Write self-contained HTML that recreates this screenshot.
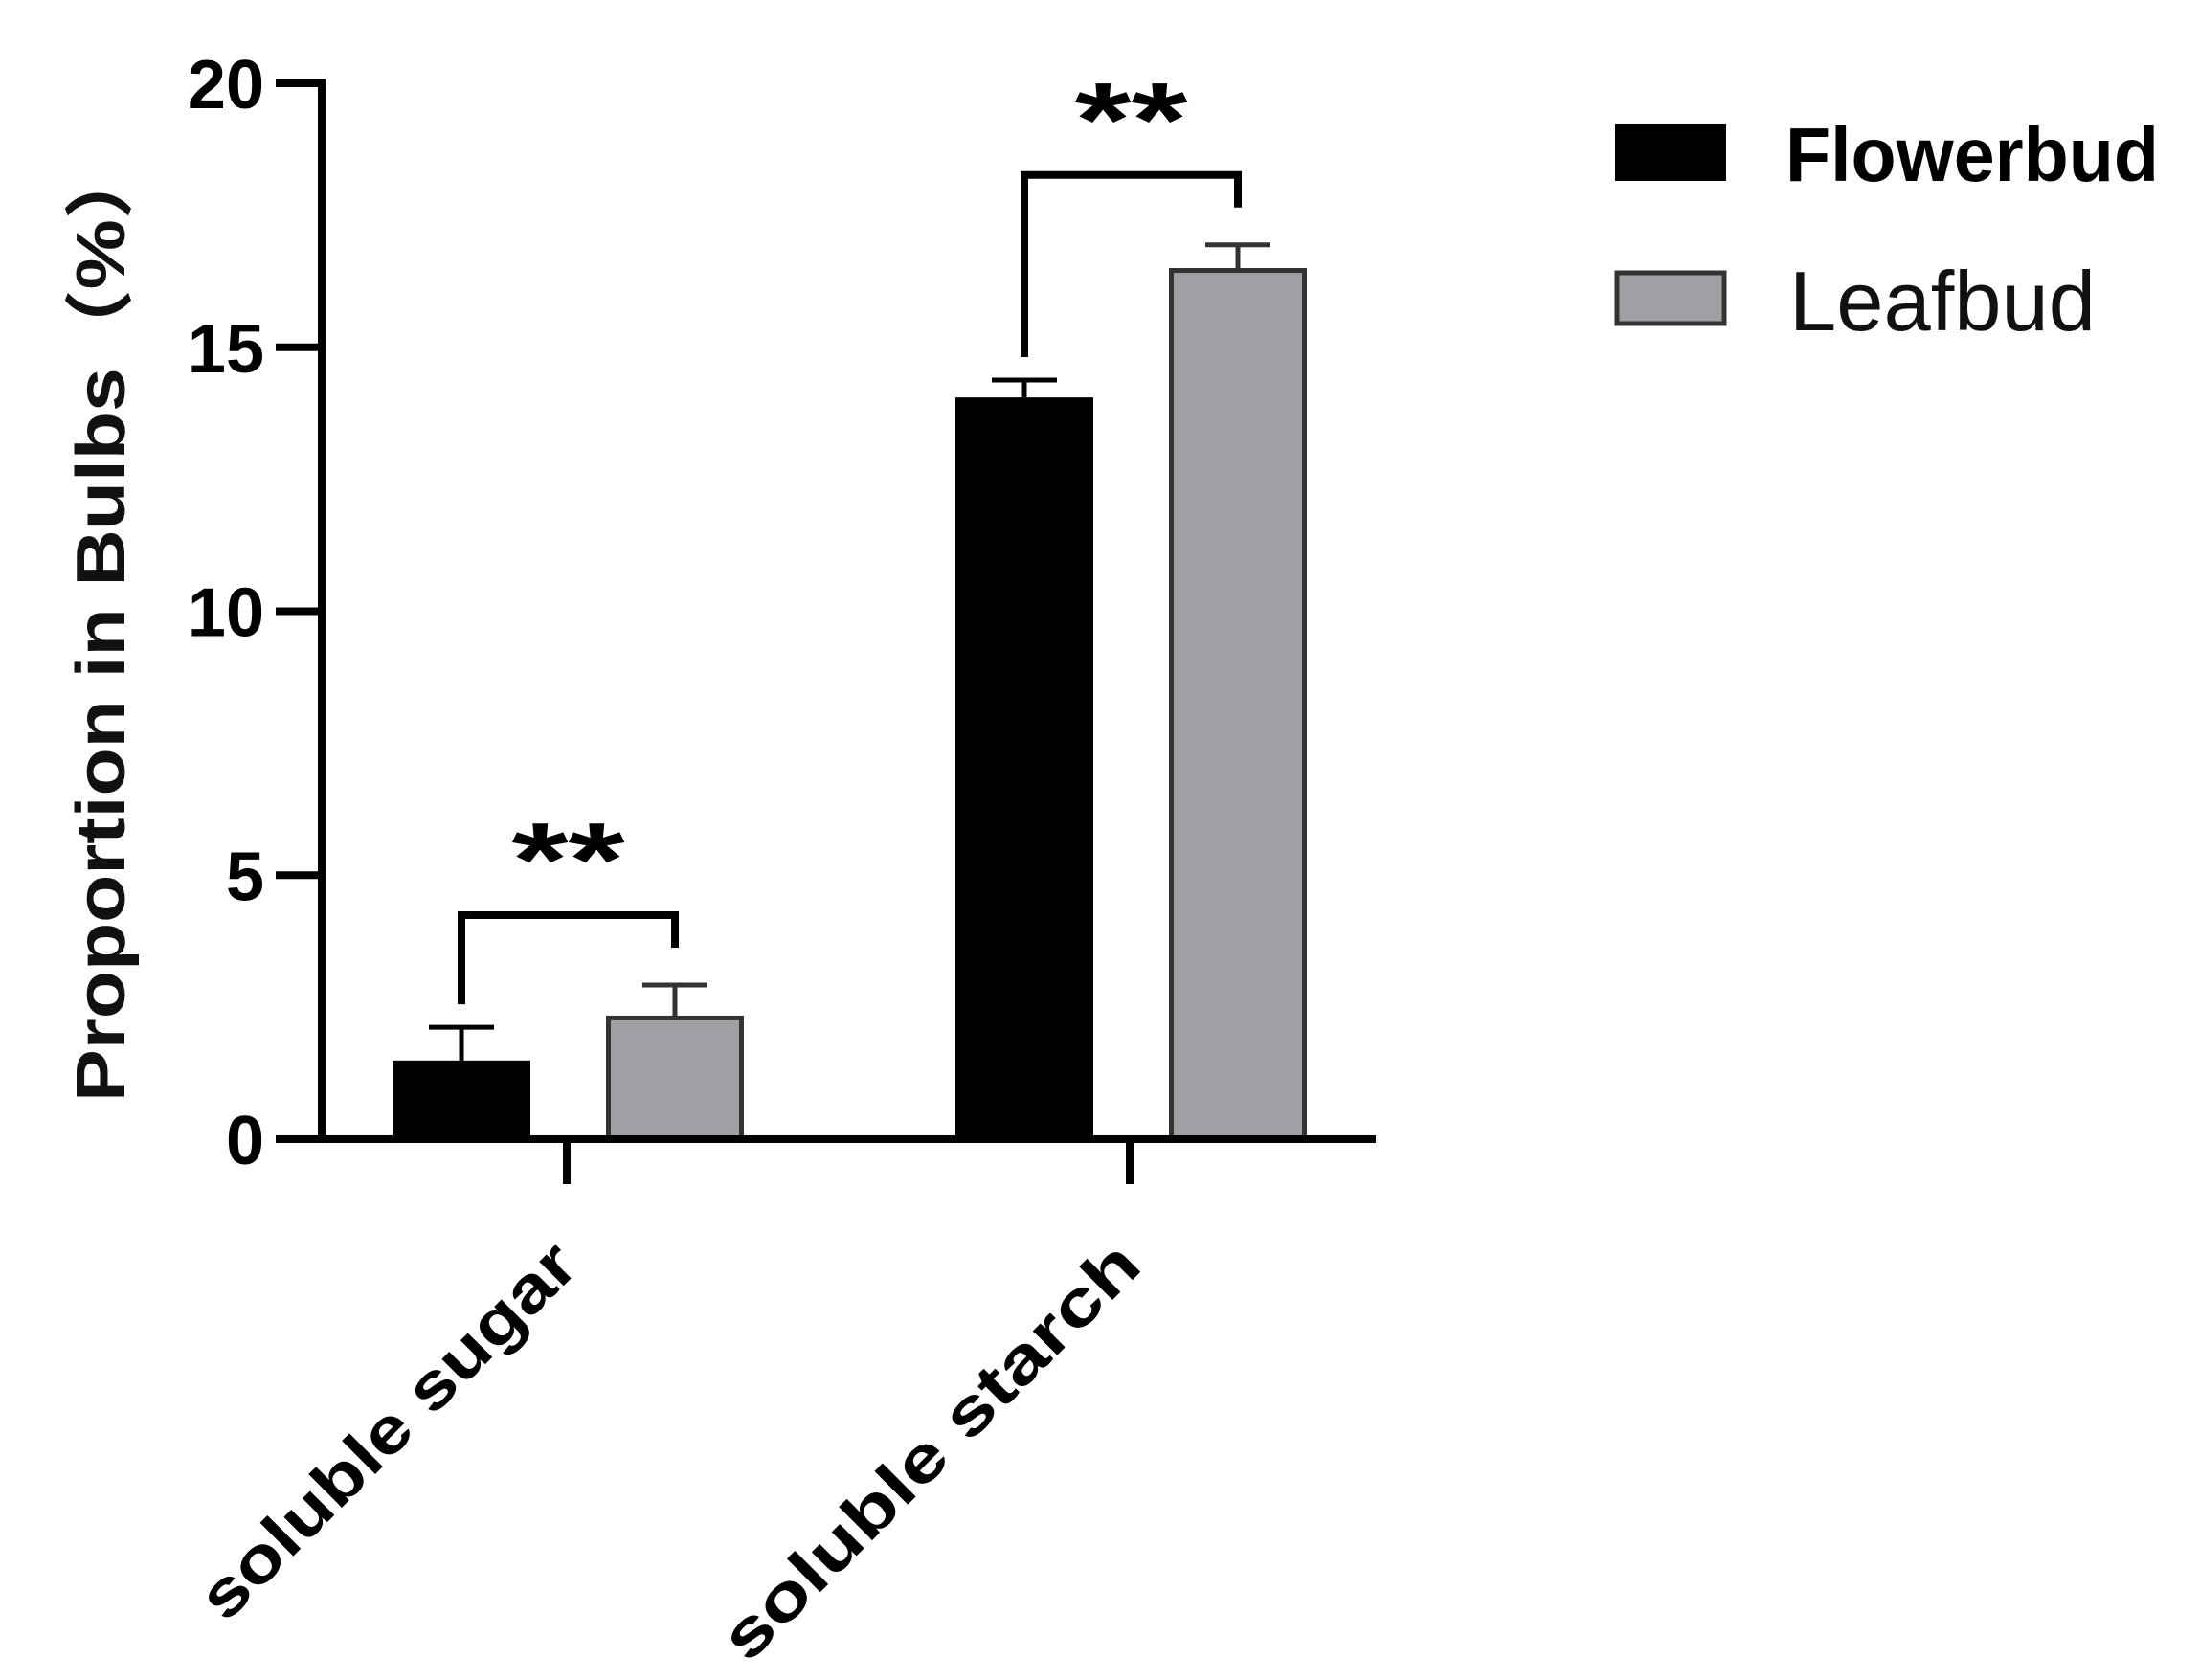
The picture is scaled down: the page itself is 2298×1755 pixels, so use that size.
<!DOCTYPE html>
<html><head><meta charset="utf-8"><style>
html,body{margin:0;padding:0;background:#fff;}
svg{display:block;}
</style></head><body>
<svg id="chart" width="2298" height="1755" viewBox="0 0 2298 1755" xmlns="http://www.w3.org/2000/svg">
  <g id="marks"></g>
  <text transform="translate(130,649) rotate(-90)" text-anchor="middle" font-family="Liberation Sans, Noto Sans CJK SC, sans-serif" font-weight="bold" font-size="72" textLength="1004" lengthAdjust="spacingAndGlyphs" fill="#111">Proportion in Bulbs（%）</text>
  <g>
    <rect x="1687" y="130" width="116" height="59" fill="#000"/>
    <text x="1865" y="189" font-family="Liberation Sans, sans-serif" font-weight="bold" font-size="80" textLength="390" lengthAdjust="spacingAndGlyphs" fill="#000">Flowerbud</text>
    <rect x="1689" y="285" width="112" height="53" fill="#a0a0a4" stroke="#333" stroke-width="5"/>
    <text x="1869" y="345" font-family="Liberation Sans, sans-serif" font-size="88" textLength="320" lengthAdjust="spacingAndGlyphs" fill="#111">Leafbud</text>
  </g>
</svg>
<script>
const categories = ["soluble sugar", "soluble starch"];
const flowerbud = [1.49, 14.05];
const leafbud = [2.34, 16.5];
const flowerbudErr = [0.63, 0.33];
const leafbudErr = [0.58, 0.44];
const yTicks = [0, 5, 10, 15, 20];
const sigLabels = ["**", "**"];

const NS = "http://www.w3.org/2000/svg";
const g = document.getElementById("marks");
const y0 = 1190, yTop = 87, yMax = 20;
const catX = [592, 1180];
const barW = 144;
function y(v){ return y0 - (v / yMax) * (y0 - yTop); }
function xc(i){ return catX[i]; }
function mk(tag, attrs){ const e = document.createElementNS(NS, tag); for (const k in attrs) e.setAttribute(k, attrs[k]); g.appendChild(e); return e; }

categories.forEach((c, i) => {
  const fx = xc(i) - 182, lx = xc(i) + 41;
  const b1 = mk("rect", {x: fx, y: y(flowerbud[i]), width: barW, height: y0 - y(flowerbud[i]), fill: "#000"});
  
  
  const b2 = mk("rect", {x: lx + 2.5, y: y(leafbud[i]) + 2.5, width: barW - 5, height: y0 - y(leafbud[i]) - 2.5, fill: "#a0a0a4", stroke: "#333", "stroke-width": 5});
  
  
  [[fx, flowerbud[i], flowerbudErr[i], "#000"], [lx, leafbud[i], leafbudErr[i], "#333"]].forEach(([bx, v, e, col]) => {
    const cx = bx + barW / 2;
    const l = mk("path", {d: `M${cx},${y(v)} V${y(v + e)} M${cx - 34},${y(v + e)} H${cx + 34}`, stroke: col, "stroke-width": 5, fill: "none"});
    
    
  });
  const fxc = fx + barW / 2, lxc = lx + barW / 2;
  const topF = y(flowerbud[i] + flowerbudErr[i]), topL = y(leafbud[i] + leafbudErr[i]);
  const by = Math.min(topF, topL) - 73;
  const br = mk("path", {d: `M${fxc},${topF - 24} V${by} H${lxc} V${topL - 39}`, stroke: "#000", "stroke-width": 8, fill: "none"});
  
  
  const st = mk("text", {x: (fxc + lxc) / 2, y: by - 20, "text-anchor": "middle", "font-family": "Liberation Sans, sans-serif", "font-weight": "bold", "font-size": 110, fill: "#000", textLength: 118, lengthAdjust: "spacingAndGlyphs"});
  st.textContent = sigLabels[i];
  
  
  const ct = mk("line", {x1: xc(i), y1: y0, x2: xc(i), y2: 1237, stroke: "#000", "stroke-width": 8});
  
  
  const lab = mk("text", {transform: `translate(${xc(i) + 15},1325) rotate(-45)`, "text-anchor": "end", "font-family": "Liberation Sans, sans-serif", "font-weight": "bold", "font-size": 68, fill: "#000", textLength: i ? 585 : 525, lengthAdjust: "spacingAndGlyphs"});
  lab.textContent = c;
  
  
});

const ya = mk("line", {x1: 336, y1: yTop - 4, x2: 336, y2: y0 + 4, stroke: "#000", "stroke-width": 8});


const xa = mk("line", {x1: 288, y1: y0, x2: 1437, y2: y0, stroke: "#000", "stroke-width": 8});


yTicks.forEach(t => {
  const tl = mk("line", {x1: 288, y1: y(t), x2: 336, y2: y(t), stroke: "#000", "stroke-width": 8});
  
  
  const tx = mk("text", {x: 276, y: y(t) + 26, "text-anchor": "end", "font-family": "Liberation Sans, sans-serif", "font-weight": "bold", "font-size": 72, fill: "#000"});
  tx.textContent = t;
  
  
});
</script>
</body></html>
